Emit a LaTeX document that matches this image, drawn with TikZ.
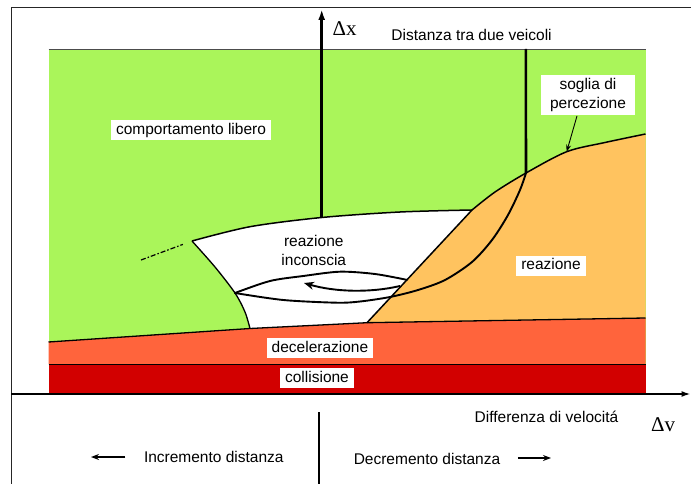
\documentclass[tikz,border=0pt]{standalone}
\usepackage{fontspec}
\setmainfont{Liberation Sans}
\newfontfamily\greekfont{Liberation Serif}
\usetikzlibrary{arrows.meta,calc}

\definecolor{libero}{RGB}{170,245,90}
\definecolor{reaz}{RGB}{255,195,95}
\definecolor{decel}{RGB}{255,100,60}
\definecolor{coll}{RGB}{210,0,0}

\begin{document}
\begin{tikzpicture}[x=1pt,y=-1pt,font=\fontsize{15.5}{19}\selectfont,
    box/.style={fill=white,inner xsep=5pt,inner ysep=3pt,text height=11pt,text depth=3pt},
    bound/.style={line width=1.3pt,line join=round},
    loopline/.style={line width=1.9pt,line cap=round},
    thickaxis/.style={line width=2.6pt},
    small arrow/.style={line width=1.3pt,-{Stealth[length=8pt,width=6pt]}}]
    \useasboundingbox (0,0) rectangle (691,484);

    % key points (pixel grid)
    \coordinate (d1) at (48.5,342);
    \coordinate (d2) at (250,328.5);
    \coordinate (d4) at (645.5,318);
    \coordinate (s1) at (645.5,134);
    \coordinate (s2) at (605,142.5);
    \coordinate (sp) at (566.7,151.7);
    \coordinate (s3) at (526,173);
    \coordinate (s4) at (495,192);
    \coordinate (s5) at (472,210);
    \coordinate (s6) at (367,322.7);
    \coordinate (w1) at (192,241);
    \coordinate (w2) at (250,226.7);
    \coordinate (w3) at (321.7,217.5);
    \coordinate (w4) at (400,212);
    \coordinate (e1) at (235,293);
    \coordinate (e2) at ($(s5)!0.62!(s6)$);

    % regions
    \fill[libero] (48.5,49) rectangle (645.5,364);
    \fill[decel] (d1) -- (d2) -- (s6) -- (d4) -- (645.5,364) -- (48.5,364) -- cycle;
    \fill[coll] (48.5,364) rectangle (645.5,394);
    \fill[reaz] plot[smooth] coordinates {(s1) (s2) (sp) (s3) (s4) (s5)} -- (s6) -- (d4) -- cycle;
    \fill[white] plot[smooth] coordinates {(w1) (w2) (w3) (w4) (s5)} -- (s6) -- (d2)
        -- plot[smooth] coordinates {(d2) (245,312) (e1) (215,267) (w1)} -- cycle;

    % boundaries
    \draw[black!70,line width=0.8pt] (48.5,49) -- (645.5,49);
    \draw[bound] (d1) -- (d2) -- (s6) -- (d4);
    \draw[line width=1pt] (48.5,364) -- (645.5,364);
    \draw[bound,line width=1.5pt] plot[smooth] coordinates {(s1) (s2) (sp) (s3) (s4) (s5)} -- (s6);
    \draw[bound,line width=1.5pt] plot[smooth] coordinates {(w1) (w2) (w3) (w4) (s5)};
    \draw[bound] plot[smooth] coordinates {(w1) (215,267) (e1) (245,312) (d2)};
    \draw[line width=1.2pt,dash pattern=on 5pt off 2pt on 1.5pt off 2pt] (141,260) -- ($(w1)!0.18!(141,260)$);

    % loop of the unconscious reaction
    \draw[loopline] plot[smooth] coordinates {(s3) (520,190) (508,215) (492,240) (472,262) (445,280)
        (418,290) (390,297) (360,301.5) (336.7,302.7) (283.3,300) (e1)};
    \draw[loopline] plot[smooth] coordinates {(e1) (270,281) (303.3,276) (340,271.7) (375,274) (e2)};
    \coordinate (a1) at (400,286);
    \coordinate (a2) at (304,283);
    \draw[line width=1.9pt,-{Stealth[length=10pt,width=8pt]}] (a1) .. controls (370,293) and (335,292) .. (a2);

    % axes and frame
    \coordinate (fr) at (11,484);
    \coordinate (ytop) at (321.7,9);
    \coordinate (xo) at (11,394);
    \coordinate (xend) at (690.5,394);
    \draw[black!85,line width=1pt] (fr) -- (11,7.5) -- (691,7.5);
    \draw[thickaxis,-{Latex[length=11pt,width=7pt]}] (w3) -- (ytop);
    \draw[thickaxis] (525.8,49) -- (s3);
    \draw[line width=1.6pt,-{Latex[length=9pt,width=6pt]}] (xo) -- (xend);
    \draw[line width=1.6pt] (319,412) -- (319,484);

    % labels
    \foreach \name/\pos/\txt in {libero/{191,130.5}/comportamento libero,
            reazione/{551,265.5}/reazione, decel/{320,348.3}/decelerazione,
            coll/{317,378.3}/collisione} {
        \node[box] (\name) at (\pos) {\txt};
    }
    \node[box,align=center,inner xsep=9pt,text height=,text depth=] (soglia) at (588,95) {soglia di\\percezione};
    \node[align=center] (inconscia) at (313.8,250.5) {reazione\\inconscia};
    \node (distanza) at (471.6,35) {Distanza tra due veicoli};
    \node (diff) at (546.5,416.7) {Differenza di velocitá};
    \node[font=\greekfont\fontsize{21}{21}\selectfont] (dx) at (344.5,29) {Δx};
    \node[font=\greekfont\fontsize{21}{21}\selectfont] (dv) at (663,425) {Δv};
    \node (incr) at (213.8,457) {Incremento distanza};
    \node (decr) at (427,459) {Decremento distanza};

    \draw[line width=0.9pt,-{Stealth[length=7pt,width=5pt]}] ($(soglia.south)+(-11,1)$) -- (sp);
    \coordinate (la) at (91,457);
    \coordinate (ra) at (551,458);
    \draw[small arrow] ($(incr.west)+(-15,0)$) -- (la);
    \draw[small arrow] ($(decr.east)+(14,-1)$) -- (ra);
\end{tikzpicture}
\end{document}
